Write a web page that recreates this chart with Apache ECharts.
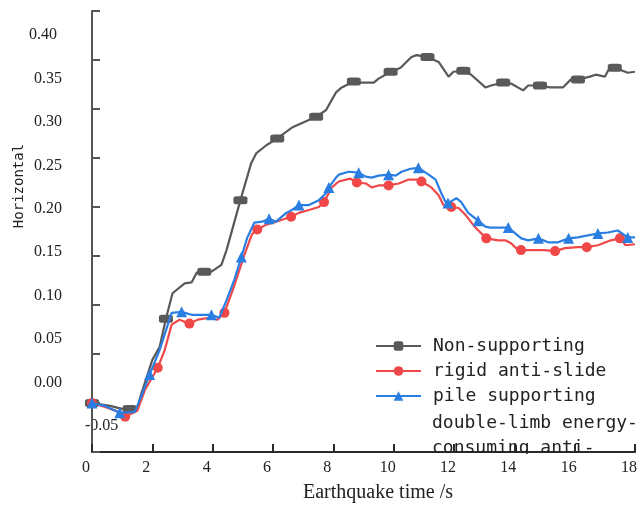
<!DOCTYPE html>
<html>
<head>
<meta charset="utf-8">
<script src="https://cdn.jsdelivr.net/npm/echarts@6/dist/echarts.min.js"></script>
<style>html,body{margin:0;padding:0;background:#fff}#c{width:640px;height:506px}</style>
</head>
<body>
<div id="c"></div>
<script>
// ---- data ----
var seriesNames = ['Non-supporting', 'rigid anti-slide', 'pile supporting'];
var extraLegendLines = ['double-limb energy-', 'consuming anti-'];
var xTitle = 'Earthquake time /s';
var yTitle = 'Horizontal';
var yLabelMin = -0.05, yLabelMax = 0.40, yStep = 0.05;
var xMin = 0, xMax = 18, xStep = 2;

var nonSupporting = [
  [0,0],[0.6,-0.003],[1.0,-0.006],[1.25,-0.006],[1.5,-0.006],[1.6,0.006],[2.0,0.044],[2.24,0.057],
  [2.45,0.086],[2.67,0.112],[3.07,0.122],[3.3,0.123],[3.47,0.133],[3.72,0.134],[3.96,0.134],[4.29,0.141],
  [4.46,0.156],[4.92,0.207],[5.28,0.245],[5.45,0.255],[5.78,0.263],[6.14,0.27],[6.63,0.281],[7.43,0.292],
  [7.76,0.299],[8.09,0.317],[8.28,0.322],[8.68,0.328],[8.94,0.327],[9.34,0.327],[9.5,0.331],[9.9,0.338],
  [10.23,0.342],[10.59,0.353],[10.76,0.355],[11.12,0.353],[11.49,0.348],[11.82,0.333],[11.98,0.338],
  [12.31,0.339],[12.57,0.335],[13.04,0.322],[13.23,0.324],[13.63,0.327],[13.89,0.326],[14.29,0.319],
  [14.46,0.324],[14.85,0.324],[15.18,0.322],[15.61,0.322],[15.87,0.33],[16.11,0.33],[16.5,0.333],
  [16.7,0.335],[17.0,0.333],[17.16,0.342],[17.33,0.342],[17.59,0.339],[17.76,0.337],[18,0.338]
];
var nonSupportingMarks = [0,1.25,2.45,3.72,4.92,6.14,7.43,8.68,9.9,11.12,12.31,13.63,14.85,16.11,17.33];

var rigidPile = [
  [0,0],[0.43,-0.004],[0.8,-0.008],[1.1,-0.014],[1.5,-0.008],[1.75,0.013],[2.18,0.036],[2.41,0.054],
  [2.64,0.08],[2.9,0.085],[3.23,0.081],[3.5,0.085],[3.89,0.087],[4.16,0.085],[4.39,0.092],[4.72,0.12],
  [5.05,0.151],[5.3,0.172],[5.48,0.177],[5.78,0.182],[6.1,0.185],[6.3,0.187],[6.6,0.19],[6.86,0.194],
  [7.19,0.197],[7.52,0.2],[7.69,0.205],[7.95,0.22],[8.18,0.226],[8.55,0.229],[8.78,0.225],[9.08,0.224],
  [9.27,0.22],[9.5,0.222],[9.83,0.222],[10.17,0.224],[10.5,0.228],[10.76,0.228],[10.92,0.226],
  [11.25,0.22],[11.49,0.212],[11.65,0.202],[11.91,0.2],[12.15,0.199],[12.38,0.192],[12.71,0.179],
  [13.07,0.168],[13.47,0.166],[13.7,0.166],[13.89,0.163],[14.06,0.158],[14.22,0.156],[14.55,0.156],
  [15.0,0.156],[15.35,0.155],[15.68,0.158],[16.1,0.159],[16.4,0.159],[16.77,0.161],[17.2,0.166],
  [17.5,0.168],[17.69,0.161],[18,0.162]
];
var rigidPileMarks = [0,1.1,2.18,3.23,4.39,5.48,6.6,7.69,8.78,9.83,10.92,11.91,13.07,14.22,15.35,16.4,17.5];

var doubleLimbPile = [
  [0,0],[0.43,-0.003],[0.92,-0.01],[1.42,-0.009],[1.65,0.008],[1.91,0.029],[2.24,0.054],[2.64,0.092],
  [2.97,0.093],[3.3,0.09],[3.56,0.09],[3.96,0.09],[4.22,0.087],[4.46,0.105],[4.72,0.126],[4.95,0.149],
  [5.15,0.169],[5.38,0.184],[5.64,0.185],[5.87,0.188],[6.1,0.185],[6.44,0.194],[6.63,0.197],[6.86,0.202],
  [7.19,0.202],[7.52,0.207],[7.76,0.214],[7.85,0.22],[8.09,0.23],[8.18,0.233],[8.51,0.236],[8.84,0.235],
  [9.07,0.231],[9.27,0.23],[9.5,0.232],[9.83,0.233],[10.07,0.232],[10.26,0.236],[10.56,0.239],
  [10.82,0.24],[11.16,0.233],[11.39,0.228],[11.58,0.214],[11.72,0.205],[11.8,0.204],[12.08,0.209],
  [12.24,0.205],[12.47,0.194],[12.8,0.186],[13.04,0.18],[13.2,0.179],[13.56,0.179],[13.8,0.179],
  [14.03,0.173],[14.23,0.168],[14.46,0.166],[14.8,0.168],[15.12,0.164],[15.45,0.164],[15.8,0.168],
  [16.1,0.169],[16.44,0.171],[16.77,0.173],[17.1,0.174],[17.43,0.176],[17.76,0.169],[18,0.169]
];
var doubleLimbPileMarks = [0,0.92,1.91,2.97,3.96,4.95,5.87,6.86,7.85,8.84,9.83,10.82,11.8,12.8,13.8,14.8,15.8,16.77,17.76];

// ---- build ----
function build(points, marks) {
  return points.map(function (p) {
    var isMark = marks.indexOf(p[0]) >= 0;
    return isMark ? { value: p } : { value: p, symbol: 'none' };
  });
}
var serif = 'Liberation Serif';
var mono = 'DejaVu Sans Mono';
var chart = echarts.init(document.getElementById('c'), null, { renderer: 'canvas' });
var colors = ['#595959', '#f04848', '#2a7ee2'];
var symbols = ['roundRect', 'circle', 'triangle'];
var symbolSizes = [[14, 8], 10, 11];
var datasets = [[nonSupporting, nonSupportingMarks], [rigidPile, rigidPileMarks], [doubleLimbPile, doubleLimbPileMarks]];

chart.setOption({
  animation: false,
  backgroundColor: '#fff',
  grid: [
    { left: 92, right: 3, top: 11, bottom: 54 },
    { left: 92, right: 3, top: 35, bottom: 80 }
  ],
  xAxis: [
    {
      gridIndex: 0, type: 'value', min: xMin, max: xMax, interval: xStep,
      axisLine: { onZero: false, lineStyle: { color: '#2a2a2a', width: 2 } },
      axisTick: { inside: true, length: 8, lineStyle: { color: '#2a2a2a', width: 2 } },
      splitLine: { show: false },
      axisLabel: { fontFamily: serif, fontSize: 16, color: '#222', margin: 8, padding: [0, 12, 0, 0] }
    },
    { gridIndex: 1, type: 'value', min: 0, max: 1, show: false }
  ],
  yAxis: [
    {
      gridIndex: 0, type: 'value', min: yLabelMin, max: yLabelMax, interval: yStep,
      axisLine: { show: true, onZero: false, lineStyle: { color: '#555', width: 2 } },
      axisTick: { show: true, inside: true, length: 8, lineStyle: { color: '#555', width: 2 } },
      splitLine: { show: false },
      axisLabel: { show: false }
    },
    {
      gridIndex: 1, type: 'value', min: yLabelMin, max: yLabelMax, interval: yStep,
      axisLine: { show: false }, axisTick: { show: false }, splitLine: { show: false },
      axisLabel: {
        fontFamily: serif, fontSize: 16, color: '#222', margin: 30,
        formatter: function (v) {
          if (v < yLabelMin + 0.01 || v > yLabelMax - 0.01) return '';
          return v.toFixed(2);
        }
      }
    }
  ],
  legend: {
    left: 375, top: 337, padding: 0, orient: 'vertical', itemGap: 7, itemWidth: 45, itemHeight: 12,
    textStyle: { fontFamily: mono, fontSize: 18, color: '#222', lineHeight: 18, padding: [0, 0, 0, 7] },
    data: seriesNames
  },
  series: datasets.map(function (d, i) {
    return {
      name: seriesNames[i], type: 'line', xAxisIndex: 0, yAxisIndex: 0,
      data: build(d[0], d[1]),
      showAllSymbol: true, symbol: symbols[i], symbolSize: symbolSizes[i],
      lineStyle: { color: colors[i], width: 2.2 },
      itemStyle: { color: colors[i] },
      z: 3 + i
    };
  }),
  graphic: [
    { type: 'text', x: 57, y: 35, style: { text: yLabelMax.toFixed(2), font: '16px ' + serif, fill: '#222', textAlign: 'right', textVerticalAlign: 'middle' } },
    { type: 'text', x: 85, y: 426, style: { text: yLabelMin.toFixed(2), font: '16px ' + serif, fill: '#222', textAlign: 'left', textVerticalAlign: 'middle' } },
    { type: 'text', x: 378, y: 493, style: { text: xTitle, font: '20px ' + serif, fill: '#222', textAlign: 'center', textVerticalAlign: 'middle' } },
    { type: 'text', x: 19, y: 186, rotation: Math.PI / 2, style: { text: yTitle, font: '14px ' + mono, fill: '#222', textAlign: 'center', textVerticalAlign: 'middle' } },
    { type: 'text', x: 432, y: 423, z: 1, style: { text: extraLegendLines[0], font: '18px ' + mono, fill: '#222', textAlign: 'left', textVerticalAlign: 'middle' } },
    { type: 'text', x: 432, y: 448, z: 1, style: { text: extraLegendLines[1], font: '18px ' + mono, fill: '#222', textAlign: 'left', textVerticalAlign: 'middle' } },
    { type: 'rect', z: 2, shape: { x: 425, y: 454, width: 200, height: 6 }, style: { fill: '#fff' } }
  ]
});
</script>
</body>
</html>
